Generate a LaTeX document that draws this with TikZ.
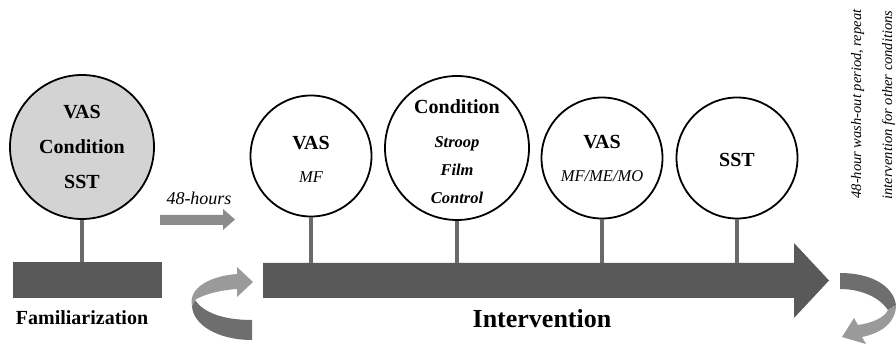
\documentclass[tikz,border=0pt]{standalone}
\usepackage{fontspec}
\setmainfont{Liberation Serif}
\definecolor{bargray}{HTML}{595959}
\definecolor{stemgray}{HTML}{6A6A6A}
\definecolor{famfill}{HTML}{D3D3D3}
\definecolor{arrgray}{HTML}{8C8C8C}
\definecolor{darkrib}{HTML}{6E6E6E}
\definecolor{lightrib}{HTML}{9A9A9A}
\begin{document}
\begin{tikzpicture}[x=1pt,y=-1pt,
  circ/.style={circle, draw=black, line width=1.8pt, inner sep=0pt, fill=white},
  stem/.style={draw=stemgray, line width=3.5pt},
  bigb/.style={font=\fontsize{20}{24}\selectfont\bfseries, anchor=base, inner sep=0pt},
  smi/.style={font=\fontsize{16.5}{20}\selectfont\itshape, anchor=base, inner sep=0pt},
  smbi/.style={font=\fontsize{16.5}{20}\selectfont\bfseries\itshape, anchor=base, inner sep=0pt},
  rot/.style={font=\fontsize{14.5}{17}\selectfont\itshape, anchor=base, rotate=90, inner sep=0pt}]
\useasboundingbox (0,0) rectangle (896,344);

% Familiarization
\node[circ, fill=famfill, minimum size=144pt] (fam) at (82,147) {};
\node[fill=bargray, inner sep=0pt, minimum width=149pt, minimum height=36pt] (famBar) at (87.5,280) {};
\draw[stem] (fam.south) -- (famBar.north -| fam.south);
\node[bigb] (famA) at (82,119) {VAS};
\node[bigb] (famB) at (82,154) {Condition};
\node[bigb] (famC) at (82,189) {SST};
\node[bigb] (famLbl) at (82,324) {Familiarization};

% 48-hours arrow
\fill[arrgray] (160,215) -- (223,215) -- (223,209) -- (235,219.5) -- (223,230) -- (223,225) -- (160,225) -- cycle;
\node[font=\fontsize{18}{22}\selectfont\itshape, anchor=base, inner sep=0pt] (hrs) at (199,205) {48-hours};

% Intervention arrow
\fill[bargray] (263,263) -- (794,263) -- (794,243) -- (829,280.5) -- (794,318) -- (794,298) -- (263,298) -- cycle;
\coordinate (barTop) at (263,263);
\node[font=\fontsize{26}{30}\selectfont\bfseries, anchor=base, inner sep=0pt] (intLbl) at (542,327) {Intervention};

% Circles
\node[circ, minimum size=121pt] (vas1) at (311,156) {};
\node[circ, minimum size=144pt] (cond) at (457,148) {};
\node[circ, minimum size=121pt] (vas2) at (602,158) {};
\node[circ, minimum size=121pt] (sst) at (737,158) {};

\draw[stem] (vas1.south) -- (vas1.south |- barTop);
\draw[stem] (cond.south) -- (cond.south |- barTop);
\draw[stem] (vas2.south) -- (vas2.south |- barTop);
\draw[stem] (sst.south) -- (sst.south |- barTop);

\node[bigb] (v1a) at (311,150) {VAS};
\node[smi] (v1b) at (311,183) {MF};
\node[bigb] (c1) at (457,114) {Condition};
\node[smbi] (c2) at (457,148) {Stroop};
\node[smbi] (c3) at (457,176) {Film};
\node[smbi] (c4) at (457,204) {Control};
\node[bigb] (v2a) at (602,149) {VAS};
\node[smi] (v2b) at (602,182) {MF/ME/MO};
\node[bigb] (s1) at (737,167) {SST};

% left curved arrow
\fill[darkrib] (252,340) .. controls (218,340) and (193,325) .. (192,306) -- (195,300) .. controls (203,312) and (222,320) .. (252,320) -- cycle;
\fill[lightrib] (192,306) .. controls (188,288) and (210,276) .. (237,274) -- (237,267) -- (253,282) -- (237,297) -- (237,289) .. controls (220,290) and (202,295) .. (195,300) -- cycle;

% right curved arrow
\fill[darkrib] (840,273) .. controls (870,273) and (893,285) .. (896,305) -- (888,310) .. controls (880,298) and (862,289) .. (840,289) -- cycle;
\fill[lightrib] (888,310) .. controls (884,318) and (872,323) .. (858,325) -- (854,318) -- (842,337) -- (866,344) -- (862,337) .. controls (882,333) and (896,322) .. (896,305) -- cycle;

% rotated note
\node[rot] (w1) at (861,104) {48-hour wash-out period, repeat};
\node[rot] (w2) at (892,105) {intervention for other conditions};
\end{tikzpicture}
\end{document}
